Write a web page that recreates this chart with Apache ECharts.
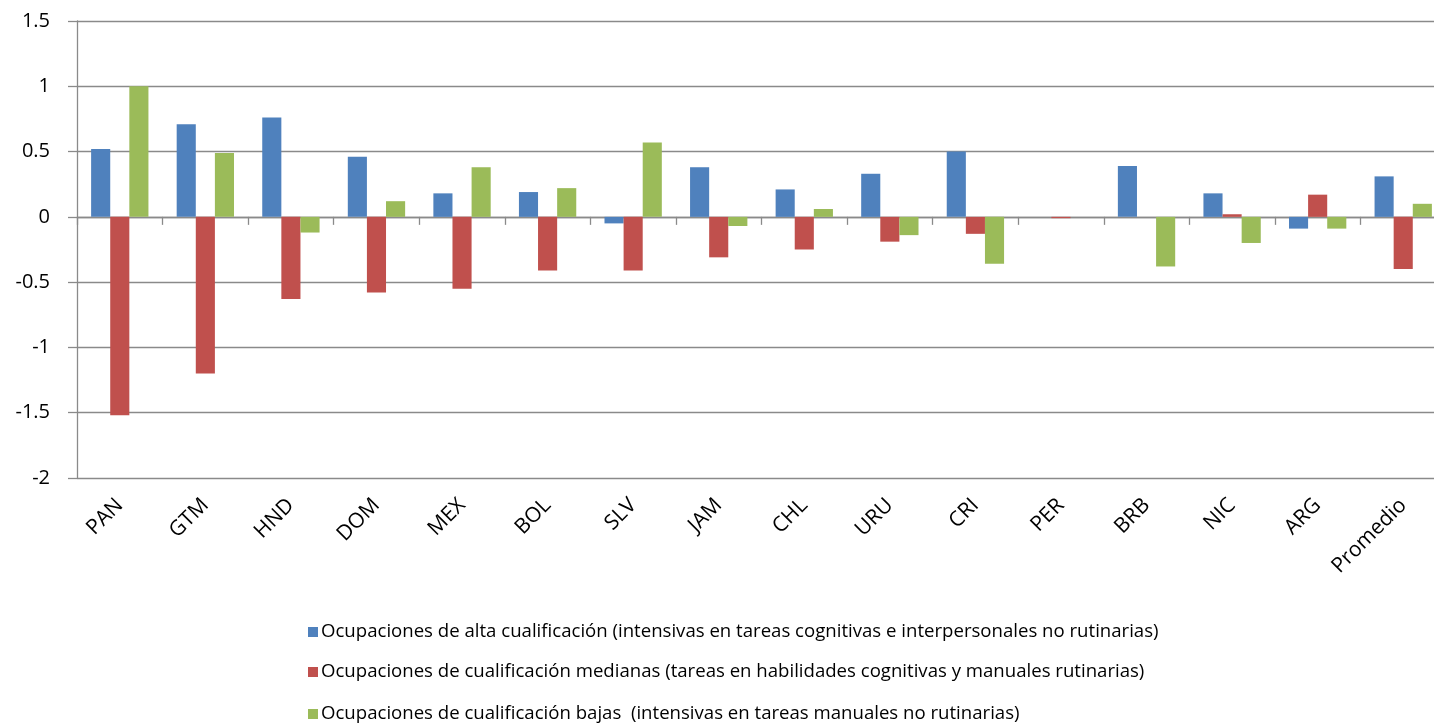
<!DOCTYPE html>
<html>
<head>
<meta charset="utf-8">
<script src="https://cdn.jsdelivr.net/npm/echarts@6/dist/echarts.min.js"></script>
<style>
  html, body { margin: 0; padding: 0; background: #fff; }
  #chart { width: 1434px; height: 724px; }
</style>
</head>
<body>
<div id="chart"></div>
<script>
// Countries (plus regional average) along the category axis
const countries = ['PAN', 'GTM', 'HND', 'DOM', 'MEX', 'BOL', 'SLV', 'JAM', 'CHL', 'URU', 'CRI', 'PER', 'BRB', 'NIC', 'ARG', 'Promedio'];

// Change in employment share by skill level
const altaCualificacion    = [0.52, 0.71, 0.76, 0.46, 0.18, 0.19, -0.05, 0.38, 0.21, 0.33, 0.50, 0.00, 0.39, 0.18, -0.09, 0.31];
const medianaCualificacion = [-1.52, -1.20, -0.63, -0.58, -0.55, -0.41, -0.41, -0.31, -0.25, -0.19, -0.13, -0.01, 0.00, 0.02, 0.17, -0.40];
const bajaCualificacion    = [1.00, 0.49, -0.12, 0.12, 0.38, 0.22, 0.57, -0.07, 0.06, -0.14, -0.36, 0.00, -0.38, -0.20, -0.09, 0.10];

const seriesNames = [
  'Ocupaciones de alta cualificación (intensivas en tareas cognitivas e interpersonales no rutinarias)',
  'Ocupaciones de cualificación medianas (tareas en habilidades cognitivas y manuales rutinarias)',
  'Ocupaciones de cualificación bajas  (intensivas en tareas manuales no rutinarias)'
];
const colors = ['#4F81BD', '#C0504D', '#9BBB59'];

const FONT = '"Open Sans", Lato, sans-serif';
const GRID_GRAY = '#8a8a8a';

const chart = echarts.init(document.getElementById('chart'), null, { renderer: 'canvas' });

const makeBar = (i, values) => ({
  name: seriesNames[i],
  type: 'bar',
  xAxisIndex: 0,
  data: values,
  barGap: '0%',
  barCategoryGap: '33%',
  itemStyle: { color: colors[i] },
  emphasis: { disabled: true }
});

// one legend row per series, stacked under the plot
const legendTops = [622, 662, 704];
const makeLegend = (i) => ({
  left: 308,
  top: legendTops[i],
  padding: 0,
  itemWidth: 10,
  itemHeight: 10,
  icon: 'rect',
  selectedMode: false,
  textStyle: { fontFamily: FONT, fontSize: 18.6, lineHeight: 20, color: '#000', padding: [0, 0, 0, -2] },
  data: [seriesNames[i]]
});

chart.setOption({
  animation: false,
  color: colors,
  // plot runs slightly past the right edge of the canvas
  grid: { left: 77, width: 1369, top: 21, bottom: 246, outerBoundsMode: 'none', containLabel: false },
  xAxis: [
    {
      // axis drawn along the zero line, with boundary ticks
      type: 'category',
      data: countries,
      axisLine: { onZero: true, lineStyle: { color: GRID_GRAY, width: 1.3 } },
      axisTick: { show: true, length: 8, lineStyle: { color: GRID_GRAY, width: 1.3 } },
      axisLabel: { show: false },
      splitLine: { show: false }
    },
    {
      // labels along the bottom edge of the plot
      type: 'category',
      data: countries,
      position: 'bottom',
      axisLine: { show: false },
      axisTick: { show: false },
      axisLabel: {
        rotate: 45,
        margin: 24,
        fontFamily: FONT,
        fontSize: 21,
        color: '#000'
      }
    }
  ],
  yAxis: {
    type: 'value',
    min: -2,
    max: 1.5,
    interval: 0.5,
    axisLine: { show: true, lineStyle: { color: GRID_GRAY, width: 1.3 } },
    axisTick: { show: true, length: 9, lineStyle: { color: GRID_GRAY, width: 1.3 } },
    axisLabel: {
      margin: 27,
      fontFamily: FONT,
      fontSize: 20,
      color: '#000'
    },
    splitLine: { show: true, lineStyle: { color: GRID_GRAY, width: 1.3 } }
  },
  legend: [makeLegend(0), makeLegend(1), makeLegend(2)],
  series: [
    makeBar(0, altaCualificacion),
    makeBar(1, medianaCualificacion),
    makeBar(2, bajaCualificacion)
  ]
});
</script>
</body>
</html>
